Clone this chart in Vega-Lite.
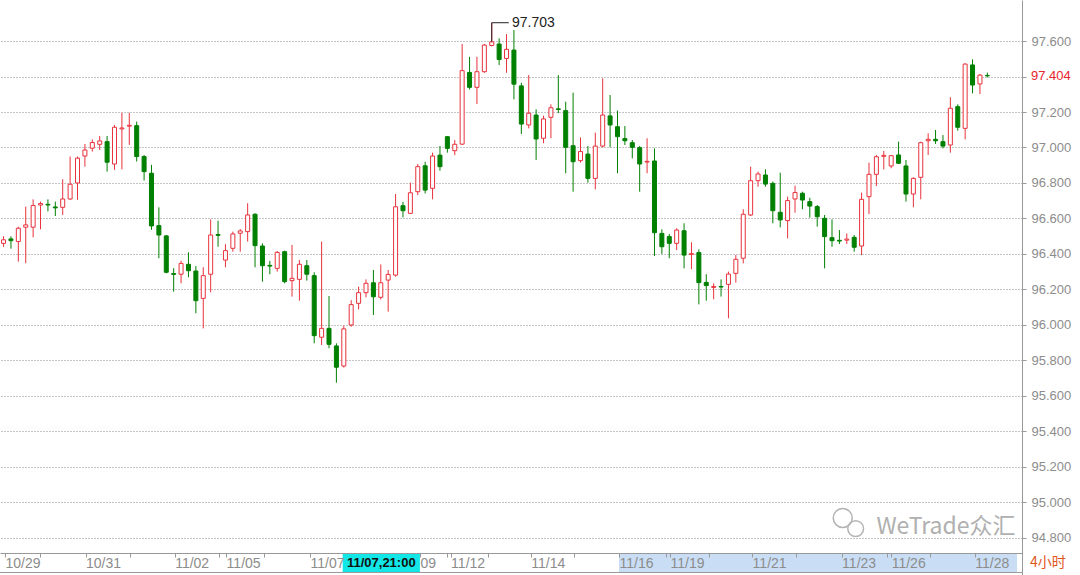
{
  "$schema": "https://vega.github.io/schema/vega-lite/v6.json",
  "width": 1022,
  "height": 575,
  "autosize": {"type": "none"},
  "padding": {"left": 0, "top": 0, "right": 58, "bottom": 0},
  "background": "white",
  "config": {"view": {"stroke": null}, "font": "Liberation Sans"},
  "datasets": {
    "candles": [
      {"i":0,"o":96.46,"h":96.5,"l":96.44,"c":96.48},
      {"i":1,"o":96.485,"h":96.5,"l":96.43,"c":96.475},
      {"i":2,"o":96.47,"h":96.554,"l":96.357,"c":96.545},
      {"i":3,"o":96.551,"h":96.667,"l":96.348,"c":96.564},
      {"i":4,"o":96.551,"h":96.708,"l":96.494,"c":96.673},
      {"i":5,"o":96.676,"h":96.695,"l":96.539,"c":96.684},
      {"i":6,"o":96.68,"h":96.708,"l":96.64,"c":96.676},
      {"i":7,"o":96.665,"h":96.695,"l":96.614,"c":96.66},
      {"i":8,"o":96.663,"h":96.821,"l":96.62,"c":96.71},
      {"i":9,"o":96.71,"h":96.949,"l":96.705,"c":96.793},
      {"i":10,"o":96.8,"h":96.949,"l":96.705,"c":96.94},
      {"i":11,"o":96.952,"h":97.02,"l":96.892,"c":96.986},
      {"i":12,"o":96.996,"h":97.046,"l":96.977,"c":97.028},
      {"i":13,"o":97.018,"h":97.065,"l":96.986,"c":97.037},
      {"i":14,"o":97.033,"h":97.065,"l":96.864,"c":96.917},
      {"i":15,"o":96.907,"h":97.127,"l":96.874,"c":97.114},
      {"i":16,"o":97.105,"h":97.195,"l":96.877,"c":97.11},
      {"i":17,"o":97.12,"h":97.195,"l":97.015,"c":97.125},
      {"i":18,"o":97.123,"h":97.146,"l":96.921,"c":96.949},
      {"i":19,"o":96.949,"h":96.958,"l":96.814,"c":96.864},
      {"i":20,"o":96.855,"h":96.902,"l":96.536,"c":96.558},
      {"i":21,"o":96.56,"h":96.663,"l":96.376,"c":96.507},
      {"i":22,"o":96.502,"h":96.507,"l":96.291,"c":96.297},
      {"i":23,"o":96.29,"h":96.32,"l":96.188,"c":96.285},
      {"i":24,"o":96.286,"h":96.362,"l":96.235,"c":96.347},
      {"i":25,"o":96.342,"h":96.409,"l":96.269,"c":96.306},
      {"i":26,"o":96.304,"h":96.332,"l":96.066,"c":96.137},
      {"i":27,"o":96.15,"h":96.325,"l":95.981,"c":96.278},
      {"i":28,"o":96.286,"h":96.595,"l":96.184,"c":96.507},
      {"i":29,"o":96.51,"h":96.588,"l":96.441,"c":96.505},
      {"i":30,"o":96.366,"h":96.455,"l":96.325,"c":96.419},
      {"i":31,"o":96.432,"h":96.526,"l":96.413,"c":96.513},
      {"i":32,"o":96.517,"h":96.541,"l":96.413,"c":96.53},
      {"i":33,"o":96.526,"h":96.686,"l":96.47,"c":96.62},
      {"i":34,"o":96.624,"h":96.629,"l":96.325,"c":96.447},
      {"i":35,"o":96.445,"h":96.46,"l":96.244,"c":96.334},
      {"i":36,"o":96.336,"h":96.361,"l":96.286,"c":96.332},
      {"i":37,"o":96.319,"h":96.417,"l":96.301,"c":96.409},
      {"i":38,"o":96.413,"h":96.419,"l":96.235,"c":96.244},
      {"i":39,"o":96.25,"h":96.451,"l":96.16,"c":96.263},
      {"i":40,"o":96.257,"h":96.366,"l":96.137,"c":96.342},
      {"i":41,"o":96.334,"h":96.366,"l":96.25,"c":96.286},
      {"i":42,"o":96.278,"h":96.297,"l":95.897,"c":95.94},
      {"i":43,"o":95.931,"h":96.47,"l":95.887,"c":95.981},
      {"i":44,"o":95.981,"h":96.163,"l":95.869,"c":95.891},
      {"i":45,"o":95.882,"h":95.897,"l":95.675,"c":95.762},
      {"i":46,"o":95.769,"h":95.996,"l":95.76,"c":95.978},
      {"i":47,"o":96.0,"h":96.14,"l":95.99,"c":96.115},
      {"i":48,"o":96.122,"h":96.216,"l":96.088,"c":96.182},
      {"i":49,"o":96.182,"h":96.257,"l":96.156,"c":96.235},
      {"i":50,"o":96.238,"h":96.31,"l":96.056,"c":96.159},
      {"i":51,"o":96.156,"h":96.341,"l":96.144,"c":96.238},
      {"i":52,"o":96.253,"h":96.31,"l":96.075,"c":96.285},
      {"i":53,"o":96.281,"h":96.738,"l":96.272,"c":96.666},
      {"i":54,"o":96.672,"h":96.694,"l":96.606,"c":96.644},
      {"i":55,"o":96.629,"h":96.802,"l":96.625,"c":96.745},
      {"i":56,"o":96.751,"h":96.907,"l":96.732,"c":96.892},
      {"i":57,"o":96.897,"h":96.92,"l":96.741,"c":96.76},
      {"i":58,"o":96.77,"h":96.971,"l":96.708,"c":96.952},
      {"i":59,"o":96.957,"h":97.008,"l":96.869,"c":96.892},
      {"i":60,"o":97.061,"h":97.064,"l":96.971,"c":96.995},
      {"i":61,"o":96.982,"h":97.042,"l":96.957,"c":97.018},
      {"i":62,"o":97.019,"h":97.583,"l":97.014,"c":97.433},
      {"i":63,"o":97.423,"h":97.511,"l":97.327,"c":97.339},
      {"i":64,"o":97.339,"h":97.511,"l":97.245,"c":97.427},
      {"i":65,"o":97.427,"h":97.583,"l":97.421,"c":97.577},
      {"i":66,"o":97.575,"h":97.703,"l":97.57,"c":97.595},
      {"i":67,"o":97.583,"h":97.615,"l":97.464,"c":97.496},
      {"i":68,"o":97.502,"h":97.639,"l":97.421,"c":97.553},
      {"i":69,"o":97.549,"h":97.662,"l":97.271,"c":97.357},
      {"i":70,"o":97.347,"h":97.365,"l":97.076,"c":97.132},
      {"i":71,"o":97.127,"h":97.408,"l":97.108,"c":97.193},
      {"i":72,"o":97.183,"h":97.215,"l":96.93,"c":97.048},
      {"i":73,"o":97.052,"h":97.179,"l":97.024,"c":97.161},
      {"i":74,"o":97.17,"h":97.243,"l":97.052,"c":97.224},
      {"i":75,"o":97.218,"h":97.408,"l":97.193,"c":97.214},
      {"i":76,"o":97.208,"h":97.258,"l":96.855,"c":97.001},
      {"i":77,"o":97.01,"h":97.309,"l":96.751,"c":96.92},
      {"i":78,"o":96.926,"h":97.057,"l":96.915,"c":96.977},
      {"i":79,"o":96.963,"h":97.008,"l":96.802,"c":96.826},
      {"i":80,"o":96.826,"h":97.084,"l":96.764,"c":97.008},
      {"i":81,"o":97.008,"h":97.39,"l":97.001,"c":97.183},
      {"i":82,"o":97.178,"h":97.296,"l":97.001,"c":97.127},
      {"i":83,"o":97.117,"h":97.208,"l":96.855,"c":97.061},
      {"i":84,"o":97.05,"h":97.121,"l":97.014,"c":97.038},
      {"i":85,"o":97.027,"h":97.042,"l":96.939,"c":97.001},
      {"i":86,"o":96.999,"h":97.008,"l":96.751,"c":96.907},
      {"i":87,"o":96.918,"h":97.052,"l":96.855,"c":96.922},
      {"i":88,"o":96.924,"h":96.995,"l":96.389,"c":96.52},
      {"i":89,"o":96.516,"h":96.539,"l":96.4,"c":96.441},
      {"i":90,"o":96.498,"h":96.513,"l":96.376,"c":96.46},
      {"i":91,"o":96.46,"h":96.545,"l":96.422,"c":96.535},
      {"i":92,"o":96.531,"h":96.573,"l":96.319,"c":96.394},
      {"i":93,"o":96.398,"h":96.466,"l":96.314,"c":96.402},
      {"i":94,"o":96.408,"h":96.426,"l":96.116,"c":96.239},
      {"i":95,"o":96.24,"h":96.286,"l":96.137,"c":96.222},
      {"i":96,"o":96.212,"h":96.235,"l":96.145,"c":96.217},
      {"i":97,"o":96.217,"h":96.257,"l":96.16,"c":96.214},
      {"i":98,"o":96.229,"h":96.301,"l":96.038,"c":96.287},
      {"i":99,"o":96.291,"h":96.394,"l":96.239,"c":96.37},
      {"i":100,"o":96.376,"h":96.652,"l":96.347,"c":96.624},
      {"i":101,"o":96.62,"h":96.892,"l":96.614,"c":96.813},
      {"i":102,"o":96.813,"h":96.864,"l":96.779,"c":96.851},
      {"i":103,"o":96.845,"h":96.877,"l":96.779,"c":96.794},
      {"i":104,"o":96.798,"h":96.808,"l":96.573,"c":96.644},
      {"i":105,"o":96.635,"h":96.858,"l":96.55,"c":96.592},
      {"i":106,"o":96.588,"h":96.723,"l":96.488,"c":96.701},
      {"i":107,"o":96.71,"h":96.785,"l":96.633,"c":96.746},
      {"i":108,"o":96.742,"h":96.751,"l":96.652,"c":96.704},
      {"i":109,"o":96.695,"h":96.717,"l":96.605,"c":96.67},
      {"i":110,"o":96.667,"h":96.676,"l":96.554,"c":96.61},
      {"i":111,"o":96.601,"h":96.62,"l":96.319,"c":96.498},
      {"i":112,"o":96.492,"h":96.595,"l":96.441,"c":96.475},
      {"i":113,"o":96.477,"h":96.535,"l":96.456,"c":96.473},
      {"i":114,"o":96.478,"h":96.516,"l":96.456,"c":96.484},
      {"i":115,"o":96.494,"h":96.507,"l":96.413,"c":96.438},
      {"i":116,"o":96.445,"h":96.746,"l":96.394,"c":96.708},
      {"i":117,"o":96.723,"h":96.915,"l":96.625,"c":96.849},
      {"i":118,"o":96.849,"h":96.958,"l":96.783,"c":96.948},
      {"i":119,"o":96.95,"h":96.98,"l":96.877,"c":96.956},
      {"i":120,"o":96.896,"h":96.958,"l":96.883,"c":96.954},
      {"i":121,"o":96.958,"h":97.033,"l":96.907,"c":96.911},
      {"i":122,"o":96.896,"h":96.93,"l":96.695,"c":96.738},
      {"i":123,"o":96.738,"h":96.832,"l":96.663,"c":96.826},
      {"i":124,"o":96.832,"h":97.033,"l":96.708,"c":97.027},
      {"i":125,"o":97.038,"h":97.08,"l":96.958,"c":97.046},
      {"i":126,"o":97.046,"h":97.099,"l":97.02,"c":97.038},
      {"i":127,"o":97.033,"h":97.07,"l":96.995,"c":97.008},
      {"i":128,"o":97.014,"h":97.283,"l":96.971,"c":97.221},
      {"i":129,"o":97.23,"h":97.243,"l":97.095,"c":97.114},
      {"i":130,"o":97.108,"h":97.474,"l":97.046,"c":97.47},
      {"i":131,"o":97.465,"h":97.497,"l":97.305,"c":97.352},
      {"i":132,"o":97.358,"h":97.414,"l":97.301,"c":97.408},
      {"i":133,"o":97.406,"h":97.422,"l":97.395,"c":97.404}
    ],
    "hiline": [
      {"k":0,"i":66,"v":97.596},
      {"k":1,"i":66,"v":97.703},
      {"k":2,"i":68.3,"v":97.703}
    ],
    "hilabel": [{"i":68.6,"v":97.703,"t":"97.703"}],
    "last": [{"v":97.404,"t":"97.404"}],
    "logo": [{"i":113.45,"v":94.913,"s":640},{"i":115.2,"v":94.853,"s":440}],
    "one": [{"n":1}]
  },
  "layer": [
    {
      "data": {"name": "candles"},
      "mark": {"type": "rule", "strokeWidth": 1, "clip": true},
      "encoding": {
        "x": {"field": "i", "type": "quantitative",
              "scale": {"domain": [0.197, 137.01], "nice": false, "zero": false},
              "axis": {"orient": "bottom", "offset": -22, "zindex": 1, "title": null, "grid": false,
                       "values": [0.2, 4.98, 11.08, 17.1, 23.13, 29.15, 30.09, 35.18, 41.43, 56.3, 59.97, 60.44, 65.5, 71.28, 77.1, 83.2, 89.6, 90.1, 95.4, 101.2, 107.2, 113.3, 119.5, 120, 125.3, 131.3],
                       "labelExpr": "datum.value == 0.2 ? '10/29' : datum.value == 11.08 ? '10/31' : datum.value == 23.13 ? '11/02' : datum.value == 30.09 ? '11/05' : datum.value == 41.43 ? '11/07' : datum.value == 56.3 ? '09' : datum.value == 60.44 ? '11/12' : datum.value == 71.28 ? '11/14' : datum.value == 83.2 ? '11/16' : datum.value == 90.1 ? '11/19' : datum.value == 101.2 ? '11/21' : datum.value == 113.3 ? '11/23' : datum.value == 120 ? '11/26' : datum.value == 131.3 ? '11/28' : ''",
                       "labelAlign": "left", "labelBaseline": "top", "labelDx": 2, "labelPadding": -1,
                       "labelColor": "#8c8c8c", "labelFont": "Liberation Sans", "labelFontSize": 14,
                       "labelOverlap": false, "labelBound": false, "labelFlush": false,
                       "tickSize": 4, "tickColor": "#999999", "domainColor": "#999999"}},
        "y": {"field": "l", "type": "quantitative",
              "scale": {"domain": [94.5915, 97.831], "nice": false, "zero": false},
              "axis": {"orient": "right", "zindex": 0, "title": null,
                       "values": [94.8, 95.0, 95.2, 95.4, 95.6, 95.8, 96.0, 96.2, 96.4, 96.6, 96.8, 97.0, 97.2, 97.4, 97.6],
                       "format": ".3f",
                       "labelExpr": "datum.value > 97.39 && datum.value < 97.41 ? '' : datum.label",
                       "grid": true, "gridColor": "#8a8a8a", "gridDash": [1, 2], "gridWidth": 1,
                       "domainColor": "#999999", "tickColor": "#999999", "tickSize": 4, "labelPadding": 5,
                       "labelColor": "#8c8c8c", "labelFont": "Liberation Sans", "labelFontSize": 13,
                       "labelBound": false, "labelFlush": false, "labelOverlap": false}},
        "y2": {"field": "h"},
        "color": {"condition": {"test": "datum.c >= datum.o", "value": "#e8323c"}, "value": "#008000"}
      }
    },
    {
      "data": {"name": "candles"},
      "mark": {"type": "bar", "width": 4, "strokeWidth": 1, "clip": true},
      "encoding": {
        "x": {"field": "i", "type": "quantitative", "scale": {"domain": [0.197, 137.01], "nice": false, "zero": false}},
        "y": {"field": "o", "type": "quantitative", "scale": {"domain": [94.5915, 97.831], "nice": false, "zero": false}},
        "y2": {"field": "c"},
        "fill": {"condition": {"test": "datum.c >= datum.o", "value": "#ffffff"}, "value": "#008000"},
        "stroke": {"condition": {"test": "datum.c >= datum.o", "value": "#e8323c"}, "value": "#008000"}
      }
    },
    {
      "data": {"name": "hiline"},
      "mark": {"type": "line", "color": "#222222", "strokeWidth": 1},
      "encoding": {
        "x": {"field": "i", "type": "quantitative", "scale": {"domain": [0.197, 137.01], "nice": false, "zero": false}},
        "y": {"field": "v", "type": "quantitative", "scale": {"domain": [94.5915, 97.831], "nice": false, "zero": false}},
        "order": {"field": "k"}
      }
    },
    {
      "data": {"name": "hilabel"},
      "mark": {"type": "text", "align": "left", "baseline": "middle", "dx": 1, "font": "Liberation Sans", "fontSize": 14, "color": "#222222"},
      "encoding": {
        "x": {"field": "i", "type": "quantitative", "scale": {"domain": [0.197, 137.01], "nice": false, "zero": false}},
        "y": {"field": "v", "type": "quantitative", "scale": {"domain": [94.5915, 97.831], "nice": false, "zero": false}},
        "text": {"field": "t"}
      }
    },
    {
      "data": {"name": "last"},
      "mark": {"type": "text", "align": "left", "baseline": "middle", "dx": 9, "font": "Liberation Sans", "fontSize": 13, "color": "#e8262e"},
      "encoding": {
        "x": {"value": "width"},
        "y": {"field": "v", "type": "quantitative", "scale": {"domain": [94.5915, 97.831], "nice": false, "zero": false}},
        "text": {"field": "t"}
      }
    },
    {
      "data": {"name": "one"},
      "mark": {"type": "rect", "color": "#c9def5"},
      "encoding": {
        "x": {"datum": 83.2, "type": "quantitative", "scale": {"domain": [0.197, 137.01], "nice": false, "zero": false}},
        "x2": {"datum": 137.01},
        "y": {"datum": 94.7155, "type": "quantitative", "scale": {"domain": [94.5915, 97.831], "nice": false, "zero": false}},
        "y2": {"datum": 94.608}
      }
    },
    {
      "data": {"name": "one"},
      "mark": {"type": "rect", "color": "#12e6e6"},
      "encoding": {
        "x": {"datum": 45.85, "type": "quantitative", "scale": {"domain": [0.197, 137.01], "nice": false, "zero": false}},
        "x2": {"datum": 56.29},
        "y": {"datum": 94.7155, "type": "quantitative", "scale": {"domain": [94.5915, 97.831], "nice": false, "zero": false}},
        "y2": {"datum": 94.608}
      }
    },
    {
      "data": {"name": "one"},
      "mark": {"type": "text", "align": "center", "baseline": "middle", "font": "Liberation Sans", "fontSize": 13, "fontWeight": "bold", "color": "#111111"},
      "encoding": {
        "x": {"datum": 51.07, "type": "quantitative", "scale": {"domain": [0.197, 137.01], "nice": false, "zero": false}},
        "y": {"datum": 94.66, "type": "quantitative", "scale": {"domain": [94.5915, 97.831], "nice": false, "zero": false}},
        "text": {"value": "11/07,21:00"}
      }
    },
    {
      "data": {"name": "one"},
      "mark": {"type": "rule", "color": "#999999", "strokeWidth": 1},
      "encoding": {
        "y": {"datum": 94.6057, "type": "quantitative", "scale": {"domain": [94.5915, 97.831], "nice": false, "zero": false}}
      }
    },
    {
      "data": {"name": "one"},
      "mark": {"type": "text", "align": "left", "baseline": "middle", "dx": 8, "font": "Noto Sans CJK SC", "fontSize": 14, "color": "#e0561e"},
      "encoding": {
        "x": {"value": "width"},
        "y": {"datum": 94.66, "type": "quantitative", "scale": {"domain": [94.5915, 97.831], "nice": false, "zero": false}},
        "text": {"value": "4小时"}
      }
    },
    {
      "data": {"name": "logo"},
      "mark": {"type": "point", "shape": "circle", "filled": false, "strokeWidth": 1.5, "color": "#b4b4b4", "opacity": 1},
      "encoding": {
        "x": {"field": "i", "type": "quantitative", "scale": {"domain": [0.197, 137.01], "nice": false, "zero": false}},
        "y": {"field": "v", "type": "quantitative", "scale": {"domain": [94.5915, 97.831], "nice": false, "zero": false}},
        "size": {"field": "s", "type": "quantitative", "scale": {"type": "identity"}, "legend": null}
      }
    },
    {
      "data": {"name": "one"},
      "mark": {"type": "text", "align": "left", "baseline": "middle", "font": "Noto Sans CJK SC", "fontSize": 23, "color": "#b0b0b0"},
      "encoding": {
        "x": {"datum": 118.0, "type": "quantitative", "scale": {"domain": [0.197, 137.01], "nice": false, "zero": false}},
        "y": {"datum": 94.86, "type": "quantitative", "scale": {"domain": [94.5915, 97.831], "nice": false, "zero": false}},
        "text": {"value": "WeTrade众汇"}
      }
    }
  ]
}
